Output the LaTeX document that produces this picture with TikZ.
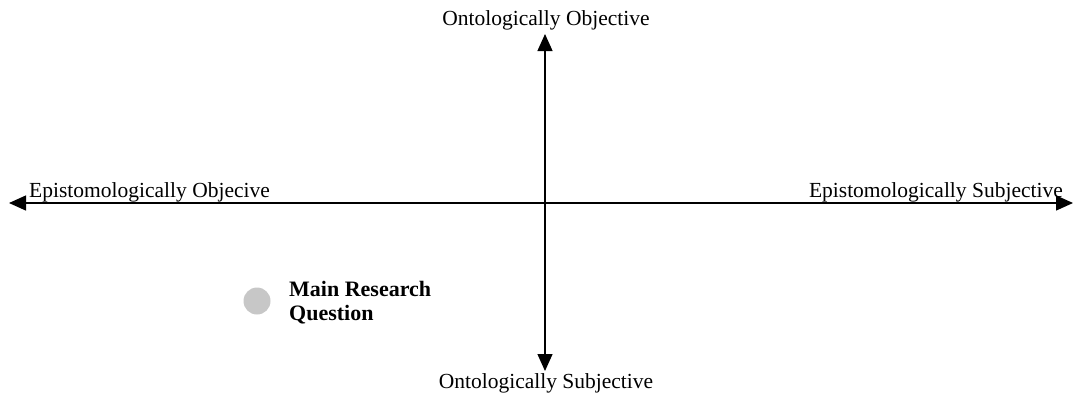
\documentclass[tikz,border=0pt]{standalone}
\usepackage{fontspec}
\setmainfont{Liberation Serif}
\usetikzlibrary{arrows.meta}
\begin{document}
\begin{tikzpicture}[x=1bp,y=-1bp,
  axis/.style={line width=1.3bp,-{Triangle[length=17bp,width=15bp]}},
  lbl/.style={font=\fontsize{21.5bp}{24bp}\selectfont,inner sep=0pt},
  dot/.style={circle,fill=black!22,minimum size=27bp,inner sep=0pt}]
\useasboundingbox (0,0) rectangle (1073,394);
\coordinate (c) at (545,203);
\coordinate (l) at (9,203);
\coordinate (r) at (1073,203);
\coordinate (t) at (545,34);
\coordinate (b) at (545,371);
\draw[axis] (c) -- (l);
\draw[axis] (c) -- (r);
\draw[axis] (c) -- (t);
\draw[axis] (c) -- (b);
\node[lbl,anchor=base] (oo) at (546,25) {Ontologically Objective};
\node[lbl,anchor=base] (os) at (546,388) {Ontologically Subjective};
\node[lbl,anchor=base west] (eo) at (29,197) {Epistomologically Objecive};
\node[lbl,anchor=base east] (es) at (1063,197) {Epistomologically Subjective};
\node[dot] (q) at (257,301) {};
\node[lbl,font=\fontsize{22bp}{23.5bp}\selectfont\bfseries,anchor=base west,align=left] (mq) at (289,320) {Main Research\\Question};
\end{tikzpicture}
\end{document}
